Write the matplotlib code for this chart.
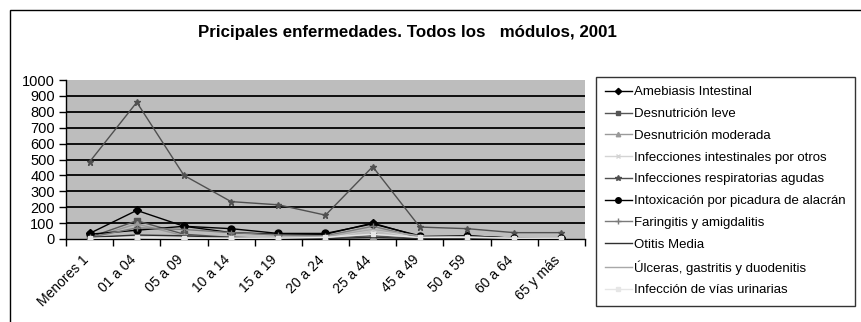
import numpy as np
import matplotlib.pyplot as plt
from matplotlib.patches import Rectangle
from matplotlib.transforms import ScaledTranslation

plt.rcParams['font.family'] = ['Liberation Sans', 'DejaVu Sans']

grupos = ['Menores 1', '01 a 04', '05 a 09', '10 a 14', '15 a 19', '20 a 24',
          '25 a 44', '45 a 49', '50 a 59', '60 a 64', '65 y más']

amebiasis = [35, 180, 80, 40, 30, 30, 100, 15, 20, 5, 5]
desnutricion_leve = [10, 115, 30, 10, 5, 5, 20, 2, 2, 1, 3]
desnutricion_moderada = [5, 95, 20, 5, 3, 3, 10, 1, 1, 1, 2]
infecciones_intestinales = [5, 20, 10, 5, 5, 5, 60, 5, 5, 2, 5]
infecciones_respiratorias = [485, 860, 400, 235, 215, 150, 455, 75, 65, 40, 40]
picadura_alacran = [30, 55, 80, 65, 35, 35, 95, 20, 20, 5, 5]
faringitis = [10, 70, 60, 40, 25, 20, 80, 10, 10, 5, 5]
otitis = [10, 25, 20, 10, 5, 3, 10, 2, 2, 1, 1]
ulceras = [1, 2, 3, 5, 10, 15, 60, 20, 15, 5, 10]
vias_urinarias = [5, 10, 5, 5, 5, 10, 30, 10, 10, 5, 5]

series = [
    ('Amebiasis Intestinal', amebiasis, 'black', 'D', 4),
    ('Desnutrición leve', desnutricion_leve, '#555555', 's', 4),
    ('Desnutrición moderada', desnutricion_moderada, '#9a9a9a', '^', 4),
    ('Infecciones intestinales por otros', infecciones_intestinales, '#d4d4d4', 'x', 4),
    ('Infecciones respiratorias agudas', infecciones_respiratorias, '#505050', '*', 5),
    ('Intoxicación por picadura de alacrán', picadura_alacran, 'black', 'o', 5),
    ('Faringitis y amigdalitis', faringitis, '#7a7a7a', '+', 5),
    ('Otitis Media', otitis, '#303030', None, 0),
    ('Úlceras, gastritis y duodenitis', ulceras, '#a8a8a8', None, 0),
    ('Infección de vías urinarias', vias_urinarias, '#e6e6e6', 's', 3),
]

fig = plt.figure(figsize=(8.62, 3.22), dpi=100)
fig.patch.set_facecolor('white')

# outer chart frame
fig.patches.append(Rectangle((10 / 862, -0.1), 1.0, 1 - 10 / 322 + 0.1,
                             transform=fig.transFigure, fill=False,
                             edgecolor='black', lw=1.0))

ax = fig.add_axes([66 / 862, 1 - 239 / 322, 519 / 862, 159 / 322])
ax.set_facecolor('#bdbdbd')

x = np.arange(len(grupos))
for i in range(100, 1000, 100):
    ax.axhline(i, color='black', lw=1.3, zorder=1)

lines = []
for name, vals, col, mk, ms in series:
    ln, = ax.plot(x, vals, color=col, lw=1.0, marker=mk, markersize=ms,
                  markeredgecolor=col, markerfacecolor=col, label=name, zorder=3)
    lines.append(ln)

ax.set_xlim(-0.5, len(grupos) - 0.5)
ax.set_ylim(0, 1000)
ax.set_yticks(range(0, 1001, 100))
ax.tick_params(axis='y', labelsize=10.5, length=5, width=1, pad=3)

ax.set_xticks(x)
ax.set_xticklabels(grupos, rotation=45, ha='right', rotation_mode='anchor',
                   fontsize=10)
ax.tick_params(axis='x', which='major', length=0, pad=10)
ax.set_xticks(np.arange(-0.5, len(grupos) + 0.5, 1.0), minor=True)
ax.tick_params(axis='x', which='minor', length=5, width=1)
shift = ScaledTranslation(-8 / 100, 0, fig.dpi_scale_trans)
for lbl in ax.get_xticklabels():
    lbl.set_transform(lbl.get_transform() + shift)

for s in ['top', 'right']:
    ax.spines[s].set_visible(False)
ax.spines['left'].set_linewidth(1.0)
ax.spines['bottom'].set_linewidth(1.0)

fig.text(407 / 862, 1 - 33 / 322,
         'Pricipales enfermedades. Todos los   módulos, 2001',
         ha='center', va='center', fontsize=12.2, fontweight='bold')

leg = fig.legend(handles=lines, loc='upper left',
                 bbox_to_anchor=(596 / 862, 1 - 77 / 322),
                 bbox_transform=fig.transFigure, fontsize=9.5,
                 frameon=True, fancybox=False, edgecolor='black',
                 borderpad=0.7, labelspacing=0.72, handlelength=2.0,
                 handletextpad=0.2, borderaxespad=0, markerscale=0.8)
leg.get_frame().set_linewidth(1.0)

fig.savefig('out.png', dpi=100)
